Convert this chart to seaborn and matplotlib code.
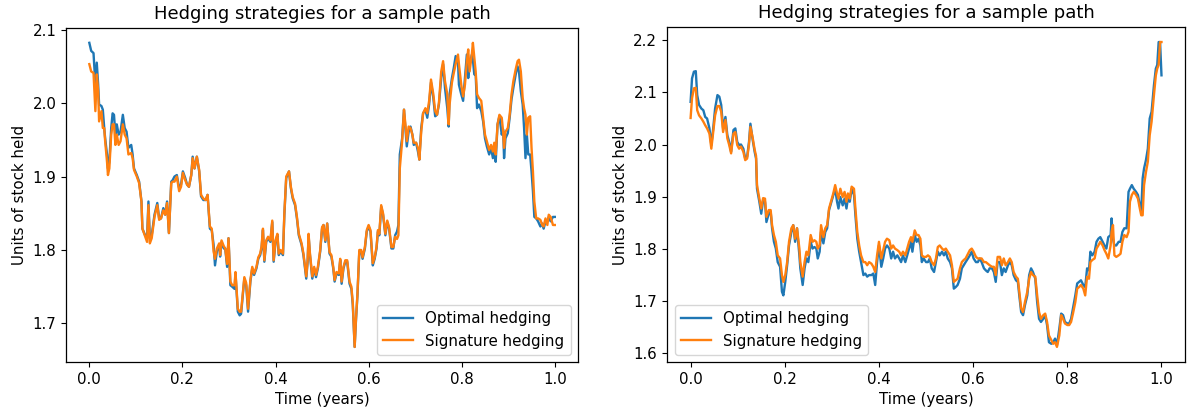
import matplotlib
matplotlib.use("Agg")
import matplotlib.pyplot as plt
import seaborn as sns

# Datos: panel izquierdo
t_left = [
    0.000, 0.004, 0.009, 0.013, 0.016, 0.019, 0.021, 0.026, 0.029, 0.032,
    0.034, 0.038, 0.040, 0.043, 0.047, 0.050, 0.053, 0.056, 0.059, 0.063,
    0.067, 0.072, 0.076, 0.080, 0.084, 0.090, 0.093, 0.096, 0.102, 0.107,
    0.112, 0.114, 0.120, 0.124, 0.127, 0.130, 0.134, 0.140, 0.146, 0.150,
    0.154, 0.159, 0.163, 0.167, 0.171, 0.176, 0.179, 0.183, 0.188, 0.193,
    0.197, 0.201, 0.206, 0.210, 0.214, 0.219, 0.222, 0.226, 0.231, 0.236,
    0.240, 0.245, 0.250, 0.254, 0.259, 0.263, 0.267, 0.270, 0.274, 0.279,
    0.281, 0.284, 0.289, 0.292, 0.296, 0.299, 0.303, 0.307, 0.312, 0.314,
    0.319, 0.323, 0.326,
    0.333, 0.337, 0.341, 0.346, 0.350, 0.354, 0.359, 0.363, 0.367, 0.370,
    0.373, 0.376, 0.380, 0.384, 0.389, 0.393, 0.396, 0.400, 0.404, 0.407,
    0.411, 0.416, 0.419, 0.423, 0.429, 0.433, 0.437, 0.442, 0.446, 0.450,
    0.456, 0.460, 0.466, 0.469, 0.471, 0.474, 0.479, 0.483, 0.487, 0.491,
    0.496, 0.500, 0.503, 0.507, 0.511, 0.516, 0.520, 0.524, 0.527, 0.531,
    0.536, 0.539, 0.542, 0.546, 0.550, 0.554, 0.559, 0.563, 0.566, 0.570,
    0.573, 0.576, 0.580, 0.584, 0.587, 0.592, 0.596, 0.600, 0.604, 0.609,
    0.613, 0.617, 0.620, 0.623, 0.627, 0.631, 0.636, 0.640, 0.644, 0.649,
    0.653, 0.657, 0.661, 0.664,
    0.667, 0.672, 0.676, 0.679, 0.682, 0.686, 0.690, 0.694, 0.697, 0.702,
    0.706, 0.709, 0.713, 0.717, 0.722, 0.726, 0.730, 0.734, 0.739, 0.743,
    0.747, 0.751, 0.756, 0.760, 0.764, 0.769, 0.772, 0.774, 0.779, 0.783,
    0.787, 0.792, 0.794, 0.799, 0.803, 0.807, 0.811, 0.814, 0.817, 0.822,
    0.824, 0.827, 0.830, 0.833, 0.837, 0.842, 0.846, 0.850, 0.854, 0.859,
    0.863, 0.867, 0.870, 0.873, 0.877, 0.881, 0.886, 0.889, 0.891, 0.894,
    0.899, 0.903, 0.907, 0.911, 0.916, 0.920, 0.923, 0.927, 0.931, 0.934,
    0.937, 0.940, 0.943, 0.947, 0.950, 0.953, 0.956, 0.960, 0.964, 0.969,
    0.973, 0.976, 0.980, 0.984, 0.987, 0.991, 0.996, 1.000,
]
optimal_left = [
    2.082, 2.071, 2.068, 2.025, 2.055, 2.025, 1.998, 1.996, 1.991, 1.966,
    1.952, 1.930, 1.911, 1.920, 1.966, 1.986, 1.984, 1.957, 1.971, 1.957,
    1.961, 1.984, 1.966, 1.961, 1.939, 1.943, 1.930, 1.911, 1.902, 1.893,
    1.866, 1.829, 1.820, 1.816, 1.866, 1.816, 1.820, 1.848, 1.864, 1.843,
    1.843, 1.857, 1.848, 1.866, 1.823, 1.893, 1.895, 1.900, 1.902, 1.884,
    1.889, 1.907, 1.898, 1.889, 1.886, 1.902, 1.927, 1.911, 1.927, 1.907,
    1.873, 1.868, 1.868, 1.875, 1.829, 1.827, 1.807, 1.779, 1.798, 1.807,
    1.791, 1.811, 1.802, 1.802, 1.777, 1.816, 1.752, 1.750, 1.747, 1.768,
    1.716, 1.711, 1.713,
    1.761, 1.752, 1.716, 1.757, 1.775, 1.766, 1.775, 1.788, 1.793, 1.802,
    1.827, 1.784, 1.811, 1.816, 1.811, 1.838, 1.784, 1.811, 1.820, 1.793,
    1.798, 1.793, 1.848, 1.898, 1.907, 1.884, 1.870, 1.861, 1.843, 1.820,
    1.807, 1.793, 1.761, 1.784, 1.820, 1.793, 1.761, 1.775, 1.763, 1.775,
    1.798, 1.829, 1.834, 1.811, 1.836, 1.795, 1.791, 1.775, 1.757, 1.768,
    1.766, 1.786, 1.754, 1.775, 1.784, 1.784, 1.754, 1.747, 1.725, 1.668,
    1.706, 1.738, 1.798, 1.798, 1.788, 1.802, 1.825, 1.832, 1.825, 1.779,
    1.788, 1.802, 1.825, 1.820, 1.859, 1.848, 1.820, 1.838, 1.829, 1.802,
    1.802, 1.820, 1.825, 1.834,
    1.930, 1.952, 1.991, 1.966, 1.941, 1.961, 1.968, 1.957, 1.943, 1.946,
    1.934, 1.923, 1.966, 1.986, 1.991, 1.980, 1.998, 2.028, 2.007, 1.982,
    1.984, 1.998, 2.034, 2.053, 2.021, 1.993, 1.968, 2.012, 2.034, 2.048,
    2.064, 2.057, 2.025, 2.012, 2.003, 2.034, 2.066, 2.034, 2.053, 2.066,
    2.059, 2.039, 2.039, 1.993, 1.998, 1.989, 1.975, 1.952, 1.941, 1.930,
    1.939, 1.925, 1.941, 1.920, 1.971, 1.982, 1.957, 1.964, 1.925, 1.952,
    1.959, 1.980, 2.005, 2.021, 2.039, 2.050, 2.043, 2.016, 1.998, 1.966,
    1.925, 1.957, 1.930, 1.930, 1.907, 1.880, 1.845, 1.843, 1.839, 1.832,
    1.836, 1.829, 1.839, 1.839, 1.845, 1.839, 1.845, 1.845,
]
signature_left = [
    2.053, 2.043, 2.041, 1.989, 2.039, 2.016, 1.975, 1.989, 1.966, 1.966,
    1.948, 1.920, 1.902, 1.911, 1.957, 1.971, 1.971, 1.943, 1.957, 1.943,
    1.948, 1.971, 1.957, 1.952, 1.930, 1.932, 1.925, 1.909, 1.900, 1.891,
    1.866, 1.829, 1.818, 1.811, 1.861, 1.809, 1.816, 1.845, 1.861, 1.841,
    1.843, 1.854, 1.848, 1.864, 1.823, 1.891, 1.893, 1.893, 1.900, 1.880,
    1.886, 1.905, 1.895, 1.889, 1.886, 1.902, 1.925, 1.911, 1.927, 1.909,
    1.875, 1.870, 1.868, 1.875, 1.832, 1.829, 1.798, 1.788, 1.802, 1.809,
    1.793, 1.813, 1.805, 1.802, 1.781, 1.816, 1.757, 1.752, 1.752, 1.770,
    1.720, 1.716, 1.716,
    1.763, 1.755, 1.720, 1.759, 1.777, 1.768, 1.777, 1.790, 1.795, 1.805,
    1.829, 1.786, 1.813, 1.818, 1.813, 1.840, 1.786, 1.813, 1.822, 1.795,
    1.800, 1.795, 1.850, 1.900, 1.907, 1.886, 1.872, 1.863, 1.845, 1.822,
    1.809, 1.795, 1.764, 1.786, 1.822, 1.795, 1.764, 1.777, 1.766, 1.777,
    1.800, 1.831, 1.834, 1.813, 1.836, 1.797, 1.793, 1.777, 1.759, 1.770,
    1.768, 1.788, 1.757, 1.777, 1.786, 1.786, 1.757, 1.750, 1.728, 1.668,
    1.708, 1.740, 1.800, 1.800, 1.790, 1.804, 1.827, 1.834, 1.827, 1.782,
    1.790, 1.804, 1.827, 1.822, 1.861, 1.850, 1.822, 1.840, 1.831, 1.804,
    1.804, 1.818, 1.815, 1.820,
    1.911, 1.948, 1.991, 1.971, 1.948, 1.968, 1.966, 1.957, 1.946, 1.946,
    1.939, 1.923, 1.961, 1.986, 1.993, 1.986, 2.003, 2.032, 2.012, 1.989,
    1.984, 2.000, 2.043, 2.057, 2.030, 2.012, 1.971, 1.998, 2.028, 2.041,
    2.053, 2.066, 2.053, 2.025, 2.009, 2.025, 2.057, 2.073, 2.043, 2.068,
    2.082, 2.062, 2.043, 2.012, 2.007, 2.003, 1.980, 1.957, 1.948, 1.936,
    1.943, 1.934, 1.946, 1.930, 1.971, 1.984, 1.980, 1.961, 1.939, 1.961,
    1.966, 1.984, 2.012, 2.030, 2.046, 2.057, 2.059, 2.043, 2.007, 1.993,
    1.984, 1.957, 1.980, 1.982, 1.939, 1.907, 1.866, 1.843, 1.843, 1.841,
    1.834, 1.832, 1.843, 1.834, 1.848, 1.845, 1.834, 1.834,
]

# Datos: panel derecho
t_right = [
    0.000, 0.003, 0.007, 0.011, 0.014, 0.018, 0.023, 0.027, 0.031, 0.035,
    0.040, 0.044, 0.048, 0.052, 0.057, 0.061, 0.065, 0.069, 0.074, 0.078,
    0.082, 0.086, 0.091, 0.095, 0.099, 0.103, 0.107, 0.112, 0.116, 0.120,
    0.124, 0.127, 0.132, 0.136, 0.139, 0.141, 0.146, 0.150, 0.154, 0.158,
    0.161, 0.166, 0.170, 0.173, 0.177, 0.181, 0.185, 0.190, 0.194, 0.197,
    0.201, 0.205, 0.209, 0.214, 0.218, 0.222, 0.226, 0.231, 0.233, 0.238,
    0.242, 0.246, 0.250, 0.255, 0.259, 0.263, 0.267, 0.270, 0.274, 0.277,
    0.282, 0.286, 0.290, 0.294, 0.299, 0.303, 0.307, 0.311, 0.314, 0.318,
    0.323, 0.327, 0.331,
    0.334, 0.338, 0.342, 0.347, 0.350, 0.354, 0.358, 0.362, 0.367, 0.371,
    0.375, 0.379, 0.384, 0.388, 0.392, 0.396, 0.400, 0.405, 0.409, 0.413,
    0.417, 0.422, 0.426, 0.430, 0.434, 0.439, 0.443, 0.447, 0.451, 0.456,
    0.460, 0.464, 0.468, 0.471, 0.476, 0.480, 0.484, 0.488, 0.491, 0.495,
    0.500, 0.504, 0.508, 0.512, 0.517, 0.521, 0.525, 0.529, 0.534, 0.538,
    0.542, 0.546, 0.551, 0.555, 0.559, 0.563, 0.567, 0.572, 0.576, 0.580,
    0.584, 0.589, 0.593, 0.597, 0.601, 0.606, 0.610, 0.614, 0.618, 0.623,
    0.627, 0.631, 0.635, 0.640, 0.644, 0.648, 0.652, 0.657,
    0.661, 0.665, 0.669, 0.674, 0.678, 0.682, 0.686, 0.691, 0.695, 0.698,
    0.702, 0.706, 0.710, 0.715, 0.719, 0.723, 0.727, 0.732, 0.736, 0.740,
    0.744, 0.749, 0.753, 0.757, 0.761, 0.766, 0.770, 0.774, 0.778, 0.783,
    0.787, 0.791, 0.795, 0.800, 0.804, 0.808, 0.812, 0.817, 0.821, 0.825,
    0.829, 0.834, 0.838, 0.842, 0.846, 0.849, 0.853, 0.858, 0.862, 0.866,
    0.870, 0.875, 0.879, 0.883, 0.887, 0.892, 0.894, 0.897, 0.900, 0.904,
    0.909, 0.913, 0.917, 0.921, 0.926, 0.930, 0.933, 0.937, 0.941, 0.946,
    0.950, 0.954, 0.957, 0.960, 0.963, 0.967, 0.971, 0.975, 0.979, 0.984,
    0.988, 0.991, 0.994, 0.997, 1.000,
]
optimal_right = [
    2.082, 2.127, 2.140, 2.141, 2.095, 2.076, 2.069, 2.066, 2.053, 2.050,
    2.031, 1.999, 2.031, 2.069, 2.095, 2.092, 2.076, 2.031, 2.053, 2.018,
    2.005, 1.986, 2.028, 2.031, 2.005, 1.999, 2.000, 1.992, 1.973, 1.976,
    2.005, 2.040, 2.008, 1.986, 1.973, 1.915, 1.890, 1.867, 1.893, 1.890,
    1.851, 1.867, 1.871, 1.839, 1.813, 1.800, 1.774, 1.765, 1.717, 1.710,
    1.736, 1.768, 1.806, 1.832, 1.845, 1.813, 1.839, 1.787, 1.762, 1.730,
    1.762, 1.781, 1.774, 1.813, 1.800, 1.803, 1.800, 1.781, 1.794, 1.832,
    1.810, 1.832, 1.839, 1.874, 1.890, 1.903, 1.915, 1.890, 1.877, 1.899,
    1.883, 1.896, 1.877,
    1.896, 1.890, 1.915, 1.903, 1.864, 1.819, 1.794, 1.774, 1.749, 1.752,
    1.746, 1.749, 1.749, 1.752, 1.730, 1.774, 1.806, 1.765, 1.781, 1.800,
    1.806, 1.800, 1.781, 1.794, 1.781, 1.787, 1.781, 1.774, 1.787, 1.774,
    1.787, 1.800, 1.813, 1.794, 1.826, 1.813, 1.819, 1.806, 1.774, 1.781,
    1.774, 1.774, 1.781, 1.762, 1.755, 1.774, 1.794, 1.787, 1.794, 1.787,
    1.794, 1.781, 1.774, 1.762, 1.723, 1.726, 1.730, 1.742, 1.762, 1.768,
    1.774, 1.781, 1.787, 1.794, 1.781, 1.774, 1.774, 1.781, 1.774, 1.762,
    1.758, 1.755, 1.762, 1.762, 1.755, 1.736, 1.774, 1.774,
    1.749, 1.762, 1.755, 1.768, 1.774, 1.768, 1.749, 1.739, 1.736, 1.710,
    1.678, 1.672, 1.691, 1.710, 1.749, 1.762, 1.755, 1.742, 1.697, 1.665,
    1.659, 1.665, 1.672, 1.653, 1.620, 1.617, 1.620, 1.627, 1.614, 1.646,
    1.675, 1.672, 1.659, 1.656, 1.656, 1.665, 1.685, 1.710, 1.733, 1.736,
    1.739, 1.730, 1.726, 1.762, 1.758, 1.794, 1.787, 1.794, 1.813, 1.819,
    1.822, 1.813, 1.806, 1.800, 1.822, 1.826, 1.858, 1.819, 1.806, 1.806,
    1.813, 1.813, 1.832, 1.839, 1.839, 1.909, 1.915, 1.922, 1.915, 1.909,
    1.903, 1.883, 1.871, 1.935, 1.954, 1.970, 1.992, 2.050, 2.063, 2.114,
    2.146, 2.153, 2.197, 2.197, 2.133,
]
signature_right = [
    2.051, 2.089, 2.108, 2.109, 2.066, 2.056, 2.050, 2.044, 2.037, 2.031,
    2.021, 1.992, 2.024, 2.056, 2.074, 2.074, 2.063, 2.024, 2.047, 2.012,
    1.999, 1.983, 2.021, 2.024, 1.999, 1.992, 1.996, 1.986, 1.970, 1.973,
    2.000, 2.034, 2.012, 1.990, 1.978, 1.922, 1.896, 1.877, 1.897, 1.896,
    1.861, 1.874, 1.874, 1.845, 1.826, 1.813, 1.787, 1.781, 1.749, 1.736,
    1.749, 1.774, 1.813, 1.839, 1.845, 1.819, 1.839, 1.800, 1.774, 1.746,
    1.774, 1.794, 1.787, 1.826, 1.813, 1.816, 1.813, 1.800, 1.806, 1.845,
    1.822, 1.839, 1.845, 1.877, 1.893, 1.906, 1.922, 1.906, 1.896, 1.915,
    1.899, 1.909, 1.890,
    1.906, 1.896, 1.919, 1.915, 1.877, 1.832, 1.806, 1.787, 1.774, 1.774,
    1.768, 1.774, 1.771, 1.765, 1.755, 1.787, 1.813, 1.781, 1.797, 1.813,
    1.819, 1.816, 1.800, 1.806, 1.800, 1.797, 1.794, 1.787, 1.794, 1.787,
    1.800, 1.813, 1.822, 1.813, 1.835, 1.826, 1.826, 1.819, 1.787, 1.784,
    1.784, 1.787, 1.784, 1.774, 1.768, 1.781, 1.803, 1.806, 1.800, 1.797,
    1.800, 1.794, 1.787, 1.768, 1.736, 1.739, 1.742, 1.762, 1.774, 1.778,
    1.781, 1.790, 1.797, 1.800, 1.794, 1.784, 1.781, 1.781, 1.781, 1.774,
    1.774, 1.771, 1.768, 1.765, 1.765, 1.749, 1.784, 1.784,
    1.768, 1.781, 1.768, 1.774, 1.781, 1.774, 1.755, 1.746, 1.742, 1.717,
    1.685, 1.678, 1.697, 1.717, 1.742, 1.755, 1.749, 1.746, 1.710, 1.678,
    1.665, 1.672, 1.675, 1.659, 1.633, 1.624, 1.617, 1.620, 1.611, 1.633,
    1.672, 1.665, 1.656, 1.653, 1.653, 1.659, 1.675, 1.697, 1.723, 1.726,
    1.730, 1.723, 1.710, 1.746, 1.742, 1.774, 1.778, 1.781, 1.800, 1.806,
    1.813, 1.806, 1.797, 1.790, 1.781, 1.806, 1.832, 1.845, 1.787, 1.784,
    1.787, 1.790, 1.813, 1.826, 1.822, 1.832, 1.890, 1.903, 1.909, 1.903,
    1.896, 1.877, 1.864, 1.864, 1.922, 1.947, 1.967, 2.018, 2.044, 2.095,
    2.133, 2.146, 2.153, 2.197, 2.197,
]

title = 'Hedging strategies for a sample path'
labels = ['Optimal hedging', 'Signature hedging']
colores = ['#1f77b4', '#ff7f0e']

# Texto un poco mas grande que el tamano por defecto
plt.rcParams['font.size'] = 10.8
plt.rcParams['axes.linewidth'] = 0.9

fig = plt.figure(figsize=(11.88, 4.12), dpi=100)
ax1 = fig.add_axes([0.0556, 0.121, 0.431, 0.812])
ax2 = fig.add_axes([0.5615, 0.121, 0.436, 0.814])

paneles = [
    (ax1, t_left, optimal_left, signature_left, 'lower right'),
    (ax2, t_right, optimal_right, signature_right, 'lower left'),
]

for ax, t, opt, sig, loc in paneles:
    sns.lineplot(x=t, y=opt, ax=ax, color=colores[0], label=labels[0], linewidth=1.7)
    sns.lineplot(x=t, y=sig, ax=ax, color=colores[1], label=labels[1], linewidth=1.7)
    ax.set_title(title, fontsize=13)
    ax.set_xlabel('Time (years)')
    ax.set_ylabel('Units of stock held')
    ax.set_xticks([0.0, 0.2, 0.4, 0.6, 0.8, 1.0])
    ax.legend(loc=loc)

fig.savefig('out.png', dpi=100)
